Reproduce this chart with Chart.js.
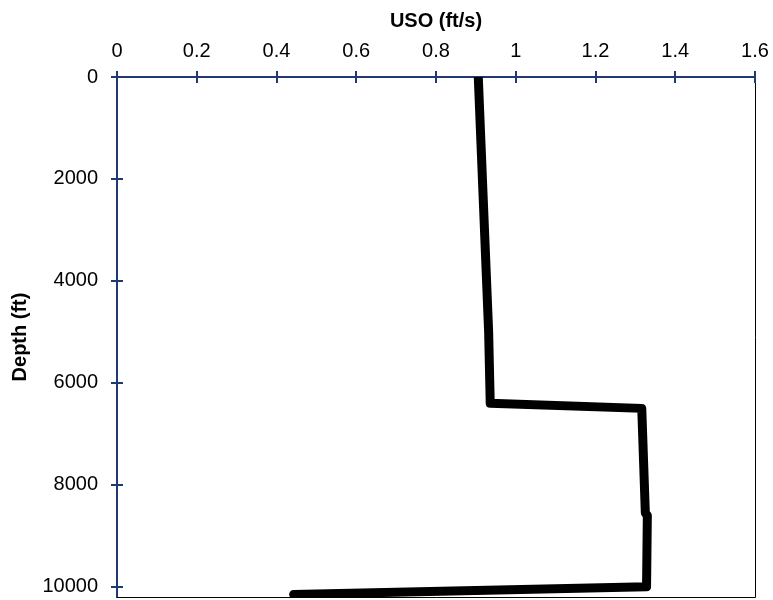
<!DOCTYPE html>
<html>
<head>
<meta charset="utf-8">
<script src="https://cdn.jsdelivr.net/npm/chart.js@4"></script>
<style>
  html, body { margin: 0; padding: 0; background: #fff; }
  #wrap { width: 773px; height: 600px; }
</style>
</head>
<body>
<div id="wrap"><canvas id="chart" width="773" height="600"></canvas></div>
<script>
// data
const depthFt = [0, 5000, 6400, 6500, 8550, 8600, 10000, 10150];
const usoFtS = [0.906, 0.932, 0.936, 1.316, 1.325, 1.330, 1.328, 0.443];
const xTicks = [0, 0.2, 0.4, 0.6, 0.8, 1, 1.2, 1.4, 1.6];
const yTicks = [0, 2000, 4000, 6000, 8000, 10000];

const AXIS_COLOR = "#1f3a73";
const FONT = "Liberation Sans, Arial, sans-serif";

// crossing tick marks + thin black right/bottom border
const frame = {
  id: "frame",
  afterDraw(chart) {
    const { ctx, chartArea: a, scales } = chart;
    ctx.save();
    ctx.strokeStyle = "#000";
    ctx.lineWidth = 1;
    ctx.beginPath();
    ctx.moveTo(a.right + 0.5, a.top);
    ctx.lineTo(a.right + 0.5, a.bottom + 0.5);
    ctx.lineTo(a.left, a.bottom + 0.5);
    ctx.stroke();

    ctx.strokeStyle = AXIS_COLOR;
    ctx.lineWidth = 2;
    ctx.beginPath();
    xTicks.forEach((v) => {
      const px = Math.round(scales.x.getPixelForValue(v));
      ctx.moveTo(px, a.top - 6);
      ctx.lineTo(px, a.top + 6);
    });
    yTicks.forEach((v) => {
      const py = Math.round(scales.y.getPixelForValue(v));
      ctx.moveTo(a.left - 6, py);
      ctx.lineTo(a.left + 6, py);
    });
    ctx.stroke();
    ctx.restore();
  }
};

const ctx = document.getElementById("chart").getContext("2d");
new Chart(ctx, {
  type: "scatter",
  data: {
    datasets: [
      {
        data: depthFt.map((d, i) => ({ x: usoFtS[i], y: d })),
        showLine: true,
        borderColor: "#000",
        borderWidth: 9,
        borderJoinStyle: "round",
        borderCapStyle: "round",
        pointRadius: 0,
        clip: 0
      }
    ]
  },
  plugins: [frame],
  options: {
    responsive: false,
    animation: false,
    layout: { padding: { top: 0, right: 18, bottom: 3, left: 0 } },
    plugins: { legend: { display: false }, tooltip: { enabled: false } },
    scales: {
      x: {
        type: "linear",
        position: "top",
        min: 0,
        max: 1.6,
        afterBuildTicks: (s) => { s.ticks = xTicks.map((v) => ({ value: v })); },
        afterFit: (s) => {
          s.height = 77;
          s.paddingLeft = 0;
          s.paddingRight = 0;
        },
        ticks: {
          color: "#000",
          font: { family: FONT, size: 20 },
          padding: 14,
          maxRotation: 0,
          callback: (v) => String(Math.round(v * 10) / 10)
        },
        grid: { display: true, drawOnChartArea: false, drawTicks: false },
        border: { color: AXIS_COLOR, width: 2 },
        title: {
          display: true,
          text: "USO (ft/s)",
          color: "#000",
          font: { family: FONT, size: 20, weight: "bold" },
          padding: { top: 9, bottom: 0 }
        }
      },
      y: {
        type: "linear",
        reverse: true,
        min: 0,
        max: 10200,
        afterBuildTicks: (s) => { s.ticks = yTicks.map((v) => ({ value: v })); },
        afterFit: (s) => {
          s.width = 117;
          s.paddingTop = 0;
          s.paddingBottom = 0;
        },
        ticks: {
          color: "#000",
          font: { family: FONT, size: 20 },
          padding: 19,
          callback: (v) => String(v)
        },
        grid: { display: true, drawOnChartArea: false, drawTicks: false },
        border: { color: AXIS_COLOR, width: 2 },
        title: {
          display: true,
          text: "Depth (ft)",
          color: "#000",
          font: { family: FONT, size: 20, weight: "bold" },
          padding: { top: 8, bottom: 0 }
        }
      }
    }
  }
});
</script>
</body>
</html>
